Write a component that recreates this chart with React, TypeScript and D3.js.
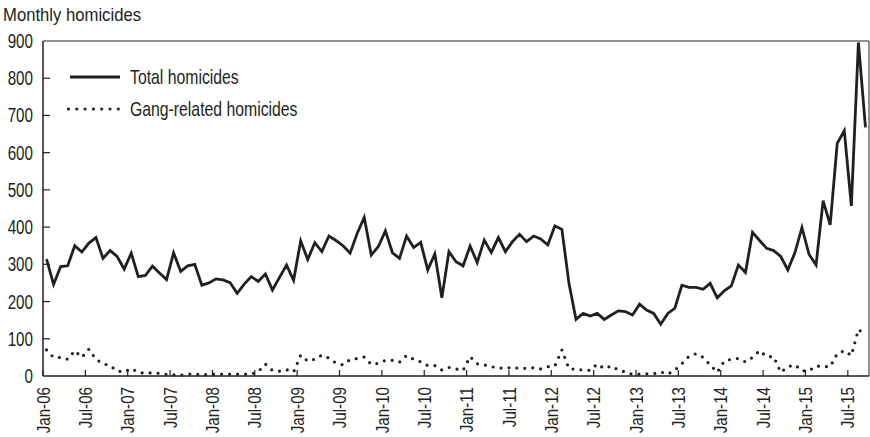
import React from "react";
import * as d3 from "d3";

// Monthly totals, Jan-2006 .. Sep-2015
const totalHomicides: number[] = [
  314, 246, 294, 296, 350, 333, 357, 372, 316, 337, 321, 287,
  330, 267, 270, 295, 277, 259, 331, 281, 296, 300, 244, 250,
  261, 258, 251, 222, 247, 267, 254, 274, 231, 265, 298, 257,
  363, 313, 358, 334, 376, 364, 350, 330, 383, 426, 325, 348,
  390, 331, 316, 376, 345, 359, 285, 328, 210, 334, 307, 296,
  349, 305, 365, 332, 372, 334, 361, 381, 361, 376, 368, 352,
  403, 394, 249, 152, 168, 161, 168, 152, 164, 175, 173, 164,
  193, 177, 168, 139, 168, 182, 244, 238, 238, 233, 249, 210,
  229, 242, 298, 278, 386, 364, 343, 337, 321, 285, 331, 399,
  327, 298, 471, 406, 625, 659, 457, 896, 668,
];

const gangHomicides: number[] = [
  70, 50, 50, 45, 68, 50, 72, 45, 33, 28, 13, 11,
  20, 10, 7, 9, 7, 4, 3, 2, 5, 6, 2, 5,
  5, 5, 5, 5, 5, 5, 12, 32, 15, 13, 17, 11,
  56, 40, 45, 56, 48, 35, 30, 44, 47, 51, 31, 34,
  42, 42, 37, 55, 45, 38, 28, 28, 16, 23, 19, 15,
  52, 33, 30, 25, 22, 20, 24, 20, 21, 22, 19, 25,
  27, 70, 20, 18, 16, 15, 32, 20, 27, 16, 11, 4,
  5, 6, 6, 11, 5, 16, 33, 53, 60, 50, 30, 10,
  40, 45, 47, 38, 50, 68, 52, 52, 10, 25, 30, 14,
  14, 27, 25, 25, 60, 68, 55, 125, 110,
];

const monthNames = ["Jan", "Feb", "Mar", "Apr", "May", "Jun", "Jul", "Aug", "Sep", "Oct", "Nov", "Dec"];
const categories: string[] = totalHomicides.map(
  (_, i) => `${monthNames[i % 12]}-${String(6 + Math.floor(i / 12)).padStart(2, "0")}`
);
const xTickLabels: string[] = [
  "Jan-06", "Jul-06", "Jan-07", "Jul-07", "Jan-08", "Jul-08", "Jan-09", "Jul-09", "Jan-10", "Jul-10",
  "Jan-11", "Jul-11", "Jan-12", "Jul-12", "Jan-13", "Jul-13", "Jan-14", "Jul-14", "Jan-15", "Jul-15",
];
const yTicks: number[] = [0, 100, 200, 300, 400, 500, 600, 700, 800, 900];

const W = 870;
const H = 437;
const left = 43;
const right = 869;
const top = 41;
const bottom = 376;
const ink = "#231f20";
const font = "'Liberation Sans', Arial, sans-serif";
const SX = 0.8; // horizontal condensing

export default function App() {
  const x = d3.scaleBand<string>().domain(categories).range([left, right]).padding(0);
  const y = d3.scaleLinear().domain([0, 900]).range([bottom, top]);
  const cx = (i: number) => (x(categories[i]) as number) + x.bandwidth() / 2;
  const line = d3
    .line<number>()
    .x((_, i) => cx(i))
    .y((d) => y(d));

  return (
    <svg
      width={W}
      height={H}
      style={{ position: "absolute", left: 0, top: 0, background: "#fff" }}
      fontFamily={font}
    >
      {/* frame */}
      <line x1={left} x2={right} y1={top} y2={top} stroke="#6d6e71" strokeWidth={1.5} />
      <line x1={right} x2={right} y1={top} y2={bottom} stroke="#6d6e71" strokeWidth={1.5} />
      <line x1={left} x2={left} y1={top} y2={bottom} stroke={ink} strokeWidth={1.5} />
      <line x1={left} x2={right} y1={bottom} y2={bottom} stroke={ink} strokeWidth={1.5} />

      {/* y axis */}
      {yTicks.map((t) => (
        <g key={t}>
          {t > 0 && t < 900 && (
            <line x1={left} x2={left + 7} y1={y(t)} y2={y(t)} stroke={ink} strokeWidth={1.2} />
          )}
          <text
            transform={`translate(33,${y(t)}) scale(0.78,1)`}
            dy="0.36em"
            textAnchor="end"
            fontSize={19.5}
            fill={ink}
          >
            {t}
          </text>
        </g>
      ))}

      {/* x axis */}
      {xTickLabels.map((lab) => {
        const xx = x(lab) as number;
        return (
          <g key={lab}>
            <line x1={xx} x2={xx} y1={bottom} y2={bottom - 6} stroke={ink} strokeWidth={1.2} />
            <text
              transform={`translate(${xx},387) rotate(-90) scale(0.82,1)`}
              dy="0.36em"
              textAnchor="end"
              fontSize={18.5}
              fill={ink}
            >
              {lab}
            </text>
          </g>
        );
      })}

      {/* series */}
      <path d={line(totalHomicides) || ""} fill="none" stroke={ink} strokeWidth={2.8} strokeLinejoin="miter" />
      <path
        d={line(gangHomicides) || ""}
        fill="none"
        stroke={ink}
        strokeWidth={3.2}
        strokeLinecap="round"
        strokeDasharray="0 8"
      />

      {/* title */}
      <text x={3} y={21} fontSize={19} fill={ink} textLength={138} lengthAdjust="spacingAndGlyphs">
        Monthly homicides
      </text>

      {/* legend */}
      <line x1={70} x2={120} y1={77} y2={77} stroke={ink} strokeWidth={2.8} />
      <text transform={`translate(130,77) scale(0.77,1)`} dy="0.36em" fontSize={20.5} fill={ink}>
        Total homicides
      </text>
      <line
        x1={68.5}
        x2={120}
        y1={109}
        y2={109}
        stroke={ink}
        strokeWidth={3.2}
        strokeLinecap="round"
        strokeDasharray="0 8.3"
      />
      <text transform={`translate(130,109) scale(0.77,1)`} dy="0.36em" fontSize={20.5} fill={ink}>
        Gang-related homicides
      </text>
    </svg>
  );
}
